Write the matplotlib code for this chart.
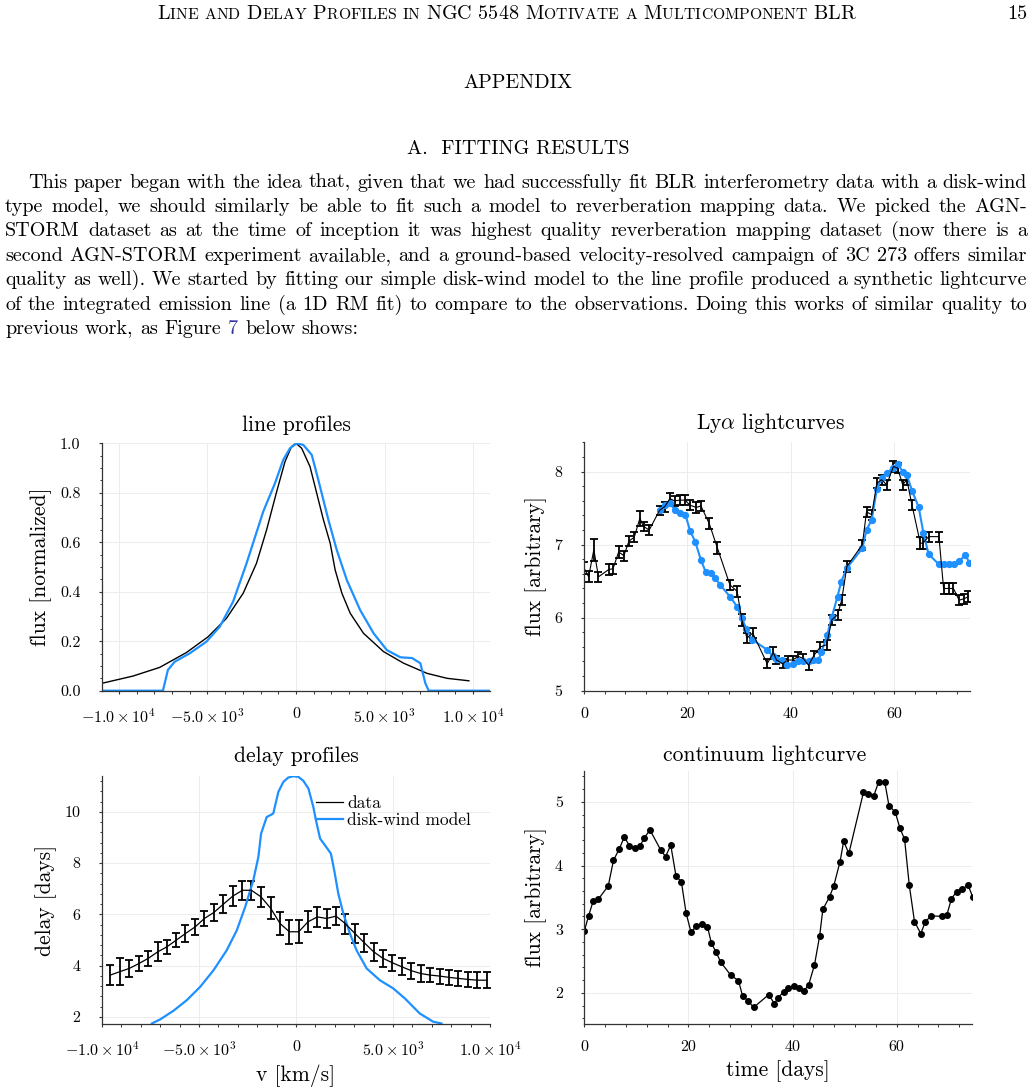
import matplotlib
matplotlib.use("Agg")
import matplotlib.pyplot as plt
from matplotlib.lines import Line2D
from matplotlib.ticker import AutoMinorLocator
from matplotlib.offsetbox import TextArea, HPacker, AnchoredOffsetbox

plt.rcParams['font.family'] = 'cmr10'
plt.rcParams['mathtext.fontset'] = 'cm'
plt.rcParams['axes.unicode_minus'] = False

BLUE = '#1E90FF'

# ---- line profiles (velocity in km/s, normalized flux) ----
lp_vel_data = [-10950, -9210, -7700, -6190, -4960, -3930, -2980, -2230, -1660, -1090,
               -620, -250, 0, 320, 790, 1170, 1550, 1930, 2210, 2590, 3060, 3810,
               4940, 6080, 7400, 8530, 9760]
lp_flux_data = [0.030, 0.059, 0.094, 0.154, 0.218, 0.292, 0.394, 0.515, 0.650, 0.805,
                0.926, 0.987, 1.0, 0.98, 0.906, 0.798, 0.69, 0.596, 0.488, 0.394, 0.313,
                0.232, 0.158, 0.111, 0.070, 0.050, 0.040]
lp_vel_model = [-10950, -7510, -7230, -6850, -6000, -5060, -4300, -3550, -2790, -1850,
                -1190, -720, -340, 40, 420, 890, 1260, 1830, 2300, 2870, 3620, 4380,
                5130, 5890, 6550, 7020, 7300, 7490, 10950]
lp_flux_model = [0, 0, 0.084, 0.117, 0.151, 0.198, 0.259, 0.360, 0.515, 0.724, 0.838,
                 0.933, 0.980, 1.0, 0.993, 0.953, 0.852, 0.69, 0.569, 0.447, 0.326,
                 0.232, 0.164, 0.135, 0.132, 0.111, 0.030, 0, 0]

# ---- Ly-alpha lightcurves (days, arbitrary flux) ----
ly_t = [0.0, 0.9, 1.9, 2.8, 4.8, 5.6, 6.7, 7.7, 8.7, 9.7, 10.8, 11.5, 12.6, 14.6, 15.6,
        16.6, 17.5, 18.5, 19.5, 20.5, 21.7, 22.6, 24.2, 25.8, 28.2, 29.6, 30.5, 31.5,
        32.6, 35.4, 36.6, 37.2, 38.4, 39.4, 40.3, 41.4, 42.4, 43.4, 44.5, 45.7, 46.9,
        47.9, 49.0, 49.8, 50.8, 53.8, 54.6, 55.6, 56.6, 57.5, 58.5, 59.8, 60.6, 61.6,
        62.4, 63.4, 65.0, 65.5, 66.6, 68.6, 69.5, 70.5, 71.4, 72.5, 73.5, 74.3]
ly_flux = [6.68, 6.56, 6.93, 6.56, 6.66, 6.67, 6.90, 6.85, 7.05, 7.10, 7.36, 7.25, 7.20,
           7.47, 7.52, 7.63, 7.60, 7.61, 7.61, 7.54, 7.51, 7.53, 7.29, 6.95, 6.45, 6.36,
           5.97, 5.72, 5.79, 5.37, 5.52, 5.42, 5.37, 5.42, 5.42, 5.47, 5.44, 5.35, 5.49,
           5.60, 5.63, 5.97, 6.04, 6.24, 6.70, 7.00, 7.45, 7.41, 7.84, 7.89, 7.82, 8.07,
           8.05, 7.82, 7.89, 7.54, 7.02, 7.02, 7.11, 7.11, 6.40, 6.40, 6.40, 6.24, 6.26,
           6.29]
ly_err = [0.08, 0.075, 0.15, 0.07, 0.07, 0.07, 0.08, 0.07, 0.07, 0.07, 0.10, 0.06, 0.07,
          0.06, 0.07, 0.08, 0.07, 0.07, 0.07, 0.07, 0.07, 0.07, 0.08, 0.08, 0.07, 0.08,
          0.08, 0.07, 0.07, 0.06, 0.08, 0.05, 0.06, 0.06, 0.06, 0.06, 0.06, 0.06, 0.06,
          0.07, 0.07, 0.07, 0.07, 0.07, 0.07, 0.07, 0.07, 0.07, 0.07, 0.07, 0.07, 0.07,
          0.07, 0.07, 0.07, 0.07, 0.08, 0.08, 0.07, 0.07, 0.07, 0.07, 0.07, 0.07, 0.07,
          0.07]
ly_mod_t = [14.6, 15.6, 16.6, 17.5, 18.5, 19.6, 20.5, 21.5, 22.6, 23.5, 24.5, 25.3, 26.3,
            28.2, 29.6, 30.5, 31.4, 32.5, 35.4, 36.6, 37.2, 38.2, 39.2, 40.3, 41.4, 42.4,
            43.4, 44.3, 45.3, 45.9, 47.0, 47.9, 49.0, 49.7, 50.8, 53.8, 54.6, 55.6, 56.6,
            57.5, 58.5, 59.7, 60.6, 61.6, 62.4, 63.4, 64.7, 65.6, 66.6, 68.6, 69.5, 70.5,
            71.5, 72.5, 73.7, 74.5]
ly_mod_flux = [7.47, 7.54, 7.57, 7.48, 7.44, 7.41, 7.19, 7.04, 6.79, 6.63, 6.61, 6.55,
               6.45, 6.29, 6.15, 5.99, 5.84, 5.70, 5.56, 5.47, 5.44, 5.42, 5.35, 5.37,
               5.40, 5.40, 5.40, 5.42, 5.42, 5.53, 5.76, 6.01, 6.29, 6.49, 6.68, 6.95,
               7.20, 7.34, 7.76, 7.91, 7.98, 8.05, 8.11, 8.00, 7.95, 7.74, 7.51, 7.16,
               6.87, 6.73, 6.73, 6.74, 6.73, 6.77, 6.86, 6.75]

# ---- delay profiles ----
dp_vel = [-9570, -9090, -8590, -8100, -7620, -7120, -6660, -6180, -5700, -5200, -4720,
          -4240, -3740, -3260, -2760, -2300, -1800, -1300, -820, -340, 140, 620, 1100,
          1580, 2060, 2540, 3040, 3520, 4000, 4490, 4970, 5460, 5950, 6430, 6910, 7410,
          7890, 8370, 8870, 9350, 9830]
dp_delay = [3.63, 3.76, 3.89, 4.08, 4.28, 4.54, 4.73, 4.99, 5.25, 5.51, 5.84, 6.07, 6.40,
            6.71, 6.94, 6.94, 6.68, 6.23, 5.64, 5.32, 5.32, 5.71, 5.90, 5.84, 5.93, 5.64,
            5.25, 4.89, 4.54, 4.28, 4.11, 3.95, 3.80, 3.69, 3.63, 3.59, 3.54, 3.50, 3.46,
            3.43, 3.43]
dp_err = [0.39, 0.52, 0.34, 0.30, 0.30, 0.37, 0.28, 0.27, 0.33, 0.31, 0.29, 0.33, 0.36,
          0.38, 0.38, 0.38, 0.38, 0.43, 0.46, 0.47, 0.45, 0.41, 0.39, 0.38, 0.36, 0.39,
          0.38, 0.36, 0.36, 0.33, 0.31, 0.33, 0.31, 0.33, 0.28, 0.29, 0.29, 0.30, 0.29,
          0.32, 0.32]
dm_vel = [-7430, -7000, -6310, -5630, -4940, -4250, -3570, -3050, -2620, -2200, -1940,
          -1800, -1510, -1250, -1170, -910, -650, -400, -140, 120, 380, 640, 890, 1030,
          1240, 1490, 1800, 1970, 2180, 2440, 2780, 3120, 3640, 4320, 5010, 5610, 6380,
          7070, 7500]
dm_delay = [1.74, 1.90, 2.24, 2.65, 3.17, 3.82, 4.60, 5.38, 6.29, 7.33, 8.24, 9.15, 9.80,
            9.90, 9.94, 10.78, 11.17, 11.34, 11.39, 11.37, 11.21, 10.91, 10.20, 9.67,
            8.96, 8.70, 8.37, 7.72, 6.81, 6.03, 5.25, 4.60, 3.89, 3.43, 3.11, 2.72, 2.13,
            1.81, 1.74]

# ---- continuum lightcurve ----
cont_t = [0.0, 0.83, 1.73, 2.69, 4.6, 5.6, 6.7, 7.7, 8.65, 9.7, 10.7, 11.5, 12.6, 14.7,
          15.6, 16.6, 17.6, 18.65, 19.55, 20.5, 21.5, 22.6, 23.65, 24.4, 25.3, 26.2, 28.1,
          29.6, 30.4, 31.5, 32.5, 35.4, 36.5, 37.2, 38.3, 39.2, 40.2, 41.3, 42.2, 43.1,
          44.2, 45.2, 45.8, 47.1, 47.9, 49.1, 49.8, 50.8, 53.6, 54.5, 55.6, 56.5, 57.7,
          58.5, 59.7, 60.6, 61.5, 62.4, 63.4, 64.6, 65.5, 66.6, 68.7, 69.6, 70.5, 71.5,
          72.5, 73.7, 74.6]
cont_flux = [2.97, 3.21, 3.45, 3.47, 3.68, 4.08, 4.26, 4.45, 4.31, 4.28, 4.31, 4.43, 4.56,
             4.24, 4.14, 4.32, 3.84, 3.74, 3.25, 2.95, 3.05, 3.08, 3.04, 2.78, 2.64, 2.48,
             2.28, 2.19, 1.95, 1.87, 1.77, 1.97, 1.83, 1.92, 2.02, 2.07, 2.11, 2.07, 2.03,
             2.13, 2.44, 2.90, 3.31, 3.51, 3.68, 4.06, 4.38, 4.19, 5.15, 5.12, 5.10, 5.31,
             5.31, 4.94, 4.84, 4.59, 4.41, 3.69, 3.12, 2.93, 3.12, 3.21, 3.20, 3.22, 3.48,
             3.59, 3.63, 3.69, 3.50]

vel_ticks = [-10000, -5000, 0, 5000, 10000]
vel_labels = [r'$-1.0\times10^{4}$', r'$-5.0\times10^{3}$', '0',
              r'$5.0\times10^{3}$', r'$1.0\times10^{4}$']
day_ticks = [0, 20, 40, 60]
legend_labels = ['data', 'disk-wind model']

# ---- page text ----
header_words = ["Line", "and", "Delay", "Profiles", "in", "NGC", "5548", "Motivate", "a",
                "Multicomponent", "BLR"]
body_lines = [
    "This paper began with the idea that, given that we had successfully fit BLR interferometry data with a disk-wind",
    "type model, we should similarly be able to fit such a model to reverberation mapping data.  We picked the AGN-",
    "STORM dataset as at the time of inception it was highest quality reverberation mapping dataset (now there is a",
    "second AGN-STORM experiment available, and a ground-based velocity-resolved campaign of 3C 273 offers similar",
    "quality as well). We started by fitting our simple disk-wind model to the line profile produced a synthetic lightcurve",
    "of the integrated emission line (a 1D RM fit) to compare to the observations. Doing this works of similar quality to",
    "previous work, as Figure 7 below shows:",
]

W, H = 1034, 1092
fig = plt.figure(figsize=(W / 100, H / 100), dpi=100)


def px_axes(left, top, right, bottom):
    return fig.add_axes([left / W, 1 - bottom / H, (right - left) / W, (bottom - top) / H])


def style(ax, nx, ny):
    for s in ['top', 'right']:
        ax.spines[s].set_visible(False)
    for s in ['left', 'bottom']:
        ax.spines[s].set_color('#333333')
        ax.spines[s].set_linewidth(0.9)
    ax.grid(True, color='#ececec', lw=0.7)
    ax.set_axisbelow(True)
    ax.xaxis.set_minor_locator(AutoMinorLocator(nx))
    ax.yaxis.set_minor_locator(AutoMinorLocator(ny))
    ax.tick_params(which='both', direction='out', color='#333333', labelsize=11.5)
    ax.tick_params(which='major', length=2.5, width=0.8)
    ax.tick_params(which='minor', length=1.8, width=0.7)
    ax.tick_params(axis='y', pad=13)
    ax.tick_params(axis='x', pad=9.5)


ax_lp = px_axes(102, 443.3, 490, 690.7)
ax_ly = px_axes(584, 441.7, 970.5, 690.7)
ax_dp = px_axes(102, 776, 490, 1024)
ax_cl = px_axes(584.3, 770.7, 972.3, 1024)

# line profiles
ax_lp.plot(lp_vel_data, lp_flux_data, color='black', lw=1.0)
ax_lp.plot(lp_vel_model, lp_flux_model, color=BLUE, lw=1.6)
ax_lp.set_xlim(-10950, 10950)
ax_lp.set_ylim(0, 1)
ax_lp.set_xticks(vel_ticks, vel_labels)
ax_lp.set_yticks([0, 0.2, 0.4, 0.6, 0.8, 1.0], ['0.0', '0.2', '0.4', '0.6', '0.8', '1.0'])
style(ax_lp, 5, 4)
ax_lp.set_title('line profiles', fontsize=15.5, pad=9.2)
ax_lp.set_ylabel('flux [normalized]', fontsize=15.5)
ax_lp.yaxis.set_label_coords(-0.129, 0.5)

# Lya lightcurves
ax_ly.errorbar(ly_t, ly_flux, yerr=ly_err, color='black', lw=0.8, elinewidth=1.3,
               capsize=3, capthick=1.3)
ax_ly.plot(ly_mod_t, ly_mod_flux, color=BLUE, lw=1.5, marker='o', ms=4.2)
ax_ly.set_xlim(0, 74.7)
ax_ly.set_ylim(5, 8.41)
ax_ly.set_xticks(day_ticks, [str(d) for d in day_ticks])
ax_ly.set_yticks([5, 6, 7, 8], ['5', '6', '7', '8'])
style(ax_ly, 5, 5)
ax_ly.set_title(r'Ly$\alpha$ lightcurves', fontsize=15.5, pad=9.4, x=0.484)
ax_ly.set_ylabel('flux [arbitrary]', fontsize=15.5)
ax_ly.yaxis.set_label_coords(-0.096, 0.5)

# delay profiles
ax_dp.errorbar(dp_vel, dp_delay, yerr=dp_err, color='black', lw=0.9, elinewidth=1.3,
               capsize=3, capthick=1.3)
ax_dp.plot(dm_vel, dm_delay, color=BLUE, lw=1.6)
ax_dp.set_xlim(-10000, 10000)
ax_dp.set_ylim(1.72, 11.4)
ax_dp.set_xticks(vel_ticks, vel_labels)
ax_dp.set_yticks([2, 4, 6, 8, 10], ['2', '4', '6', '8', '10'])
style(ax_dp, 5, 5)
ax_dp.set_title('delay profiles', fontsize=15.5, pad=10.4)
ax_dp.set_ylabel('delay [days]', fontsize=15.5)
ax_dp.yaxis.set_label_coords(-0.115, 0.5)
ax_dp.set_xlabel('v [km/s]', fontsize=15.5)
ax_dp.xaxis.set_label_coords(0.5, -0.165)
legend_handles = [Line2D([], [], color='black', lw=0.9), Line2D([], [], color=BLUE, lw=1.6)]
ax_dp.legend(legend_handles, legend_labels, loc='upper left', bbox_to_anchor=(0.552, 0.92),
             frameon=False, fontsize=12.5, borderpad=0, borderaxespad=0,
             handlelength=1.55, handletextpad=0.25, labelspacing=0.1)

# continuum lightcurve
ax_cl.plot(cont_t, cont_flux, color='black', lw=0.9, marker='o', ms=4)
ax_cl.set_xlim(0, 74.5)
ax_cl.set_ylim(1.51, 5.49)
ax_cl.set_xticks(day_ticks, [str(d) for d in day_ticks])
ax_cl.set_yticks([2, 3, 4, 5], ['2', '3', '4', '5'])
style(ax_cl, 5, 5)
ax_cl.set_title('continuum lightcurve', fontsize=15.5, pad=7.2, x=0.466)
ax_cl.set_ylabel('flux [arbitrary]', fontsize=15.5)
ax_cl.yaxis.set_label_coords(-0.097, 0.5)
ax_cl.set_xlabel('time [days]', fontsize=15.5)
ax_cl.xaxis.set_label_coords(0.5, -0.142)

# ---- page header in small caps ----
BIG, SMALL = 14.5, 11.3
word_boxes = []
for word in header_words:
    parts = []
    for ch in word:
        if ch.isupper() or ch.isdigit():
            parts.append(TextArea(ch, textprops=dict(fontsize=BIG)))
        else:
            parts.append(TextArea(ch.upper(), textprops=dict(fontsize=SMALL)))
    word_boxes.append(HPacker(children=parts, align='baseline', pad=0, sep=0))
header = HPacker(children=word_boxes, align='baseline', pad=0, sep=4.8)
fig.add_artist(AnchoredOffsetbox(loc='center', child=header, pad=0, borderpad=0,
                                 frameon=False, bbox_to_anchor=(506 / W, 1 - 14 / H),
                                 bbox_transform=fig.transFigure))
fig.text(1027 / W, 1 - 14 / H, '15', fontsize=14.5, ha='right', va='center')
fig.text(518 / W, 1 - 83 / H, 'APPENDIX', fontsize=14.5, ha='center', va='center')
fig.text(518 / W, 1 - 149 / H, 'A.  FITTING RESULTS', fontsize=14.5, ha='center',
         va='center')

# ---- justified paragraph ----
renderer = fig.canvas.get_renderer()
for i, line in enumerate(body_lines):
    words = line.split()
    last = i == len(body_lines) - 1
    y = 1 - (187.5 + 24.45 * i) / H
    x0 = 28 if i == 0 else 5
    texts = [fig.text(0, y, w, fontsize=14.5, va='baseline',
                      color='#3535a5' if (last and w == '7') else 'black') for w in words]
    widths = [t.get_window_extent(renderer=renderer).width for t in texts]
    gap = 6.7 if last else (1027 - x0 - sum(widths)) / (len(words) - 1)
    x = x0
    for t, w in zip(texts, widths):
        t.set_x(x / W)
        x += w + gap

fig.savefig('out.png', dpi=100)
